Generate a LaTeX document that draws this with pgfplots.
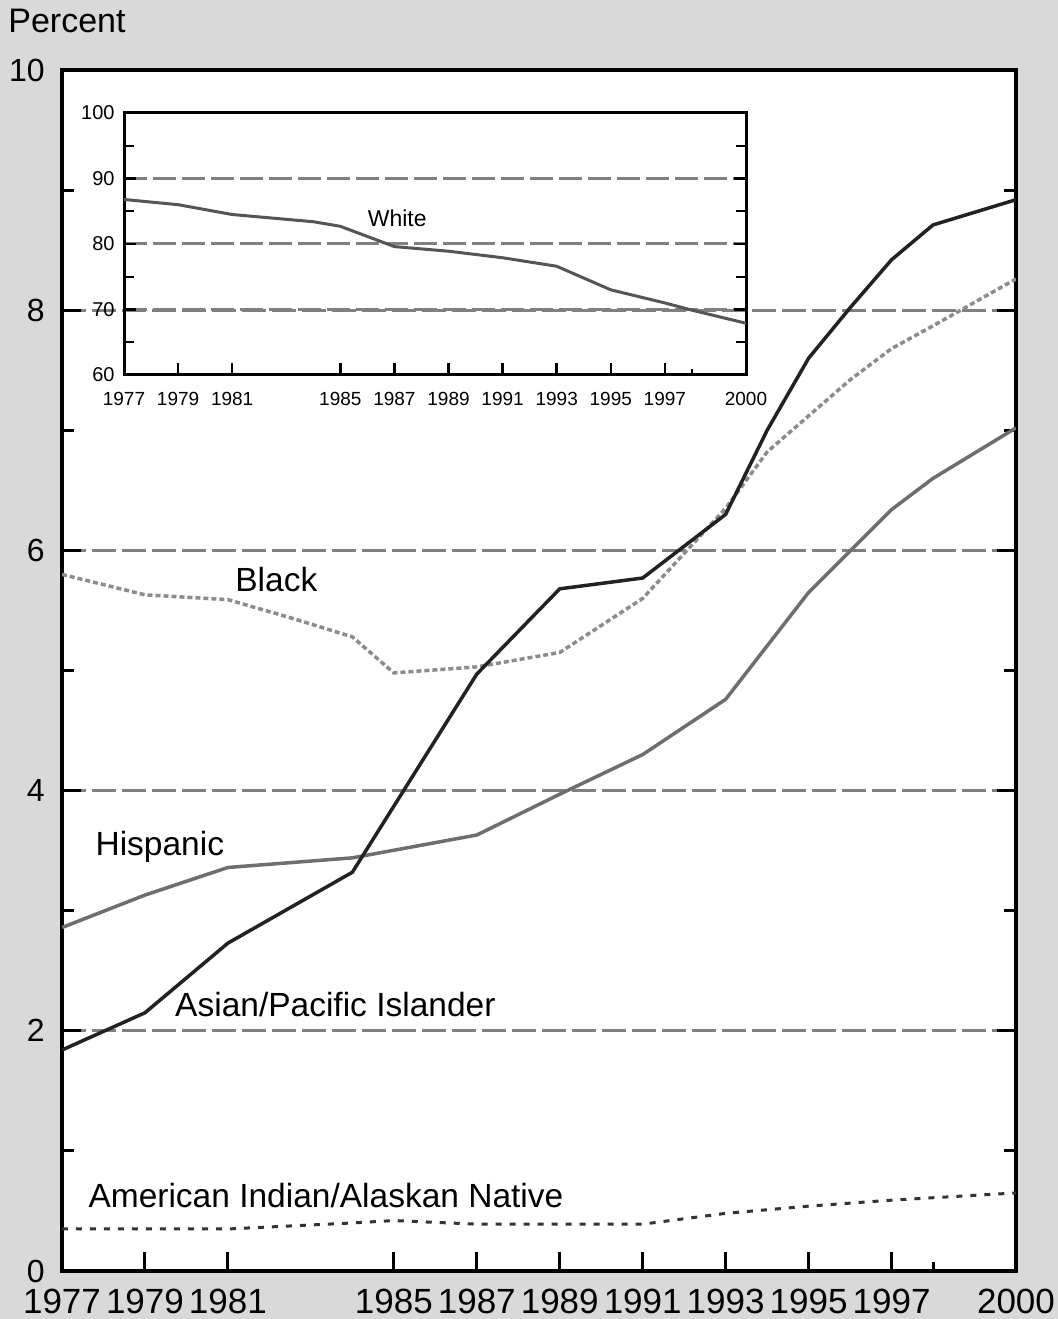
\documentclass[border=0pt]{standalone}
\usepackage{fontspec}
\setmainfont{Liberation Sans}
\usepackage{pgfplots}
\pgfplotsset{compat=1.18}
\definecolor{bg}{HTML}{D9D9D9}
\definecolor{gridc}{HTML}{808080}
\definecolor{asianc}{HTML}{222222}
\definecolor{blackc}{HTML}{8C8C8C}
\definecolor{hispc}{HTML}{6E6E6E}
\definecolor{aic}{HTML}{333333}
\definecolor{whitec}{HTML}{555555}

\pgfplotstableread{
year val
1977 1.84
1979 2.15
1981 2.73
1984 3.32
1987 4.97
1989 5.68
1991 5.77
1993 6.30
1994 7.00
1995 7.60
1996 8.02
1997 8.42
1998 8.71
2000 8.92
}\asian

\pgfplotstableread{
year val
1977 5.80
1979 5.63
1981 5.59
1982.5 5.44
1984 5.28
1985 4.98
1987 5.03
1989 5.15
1991 5.60
1993 6.35
1994 6.82
1995 7.12
1996 7.42
1997 7.68
1998 7.87
2000 8.26
}\black

\pgfplotstableread{
year val
1977 2.86
1979 3.13
1981 3.36
1984 3.44
1987 3.63
1989 3.97
1991 4.30
1993 4.76
1995 5.65
1997 6.34
1998 6.60
2000 7.02
}\hisp

\pgfplotstableread{
year val
1977 0.35
1981 0.35
1984 0.40
1985 0.42
1987 0.39
1991 0.39
1993 0.48
1995 0.54
1997 0.59
1998 0.61
2000 0.65
}\amind

\pgfplotstableread{
year val
1977 86.8
1979 86.0
1981 84.5
1984 83.4
1985 82.7
1987 79.6
1989 78.9
1991 77.9
1993 76.6
1995 73.0
1997 71.0
1998 69.9
2000 67.9
}\white

\begin{document}
\begin{tikzpicture}
\fill[bg, use as bounding box] (-31pt,-24pt) rectangle (498pt,635.5pt);
\begin{axis}[
  at={(0,0)}, anchor=south west, scale only axis,
  width=477pt, height=600.5pt,
  xmin=1977, xmax=2000, ymin=0, ymax=10,
  axis background/.style={fill=white},
  axis line style={line width=2pt, black},
  tick align=inside,
  xtick pos=bottom, ytick pos=both,
  xtick={1977,1979,1981,1985,1987,1989,1991,1993,1995,1997,2000},
  xticklabels={1977,1979,1981,1985,1987,1989,1991,1993,1995,1997,2000},
  xticklabel style={font=\fontsize{17.5}{18}\selectfont, inner sep=0pt, yshift=-9pt},
  extra x ticks={1998}, extra x tick labels={},
  extra x tick style={major tick length=4.5pt},
  ytick={0,2,4,6,8,10},
  yticklabels={0,2,4,6,8,10},
  yticklabel style={font=\fontsize{16}{16}\selectfont, inner sep=0pt, xshift=-8.5pt},
  extra y ticks={1,3,5,7,9}, extra y tick labels={},
  extra y tick style={major tick length=6pt, grid=none},
  major tick length=9.5pt,
  tick style={line width=1.5pt, black},
  ymajorgrids,
  grid style={line width=1.5pt, gridc, dash pattern=on 12pt off 3pt},
]
\addplot[no marks, hispc, line width=1.75pt] table[x=year,y=val]{\hisp};
\addplot[no marks, blackc, line width=1.75pt, dash pattern=on 2.5pt off 1.5pt] table[x=year,y=val]{\black};
\addplot[no marks, asianc, line width=1.75pt] table[x=year,y=val]{\asian};
\addplot[no marks, aic, line width=1.5pt, dash pattern=on 3pt off 4pt] table[x=year,y=val]{\amind};
\node[anchor=base west, inner sep=0, font=\fontsize{16.75}{17}\selectfont] at (axis cs:1981.17,5.66) {Black};
\node[anchor=base west, inner sep=0, font=\fontsize{16.75}{17}\selectfont] at (axis cs:1977.8,3.46) {Hispanic};
\node[anchor=base west, inner sep=0, font=\fontsize{16.75}{17}\selectfont] at (axis cs:1979.72,2.12) {Asian/Pacific Islander};
\node[anchor=base west, inner sep=0, font=\fontsize{16.75}{17}\selectfont] at (axis cs:1977.63,0.53) {American Indian/Alaskan Native};
\end{axis}
\begin{axis}[
  at={(31pt,448pt)}, anchor=south west, scale only axis,
  width=311pt, height=131pt,
  xmin=1977, xmax=2000, ymin=60, ymax=100,
  axis line style={line width=1.5pt, black},
  tick align=inside,
  xtick pos=bottom, ytick pos=both,
  xtick={1977,1979,1981,1985,1987,1989,1991,1993,1995,1997,2000},
  xticklabels={1977,1979,1981,1985,1987,1989,1991,1993,1995,1997,2000},
  xticklabel style={font=\fontsize{9.5}{10}\selectfont, inner sep=0pt, yshift=-8.5pt},
  extra x ticks={1998}, extra x tick labels={},
  extra x tick style={major tick length=3pt},
  ytick={60,70,80,90,100},
  yticklabels={60,70,80,90,100},
  yticklabel style={font=\fontsize{10}{10}\selectfont, inner sep=0pt, xshift=-4.5pt},
  extra y ticks={65,75,85,95}, extra y tick labels={},
  extra y tick style={major tick length=5pt, grid=none},
  major tick length=6pt,
  tick style={line width=1.2pt, black},
  ymajorgrids,
  grid style={line width=1.5pt, gridc, dash pattern=on 11.5pt off 3pt},
]
\addplot[no marks, whitec, line width=1.5pt] table[x=year,y=val]{\white};
\node[anchor=base west, inner sep=0, font=\fontsize{11.5}{12}\selectfont] at (axis cs:1986.0,82.6) {White};
\end{axis}
\node[anchor=base west, inner sep=0, font=\fontsize{17}{17}\selectfont] at (-27pt,619pt) {Percent};
\end{tikzpicture}
\end{document}
